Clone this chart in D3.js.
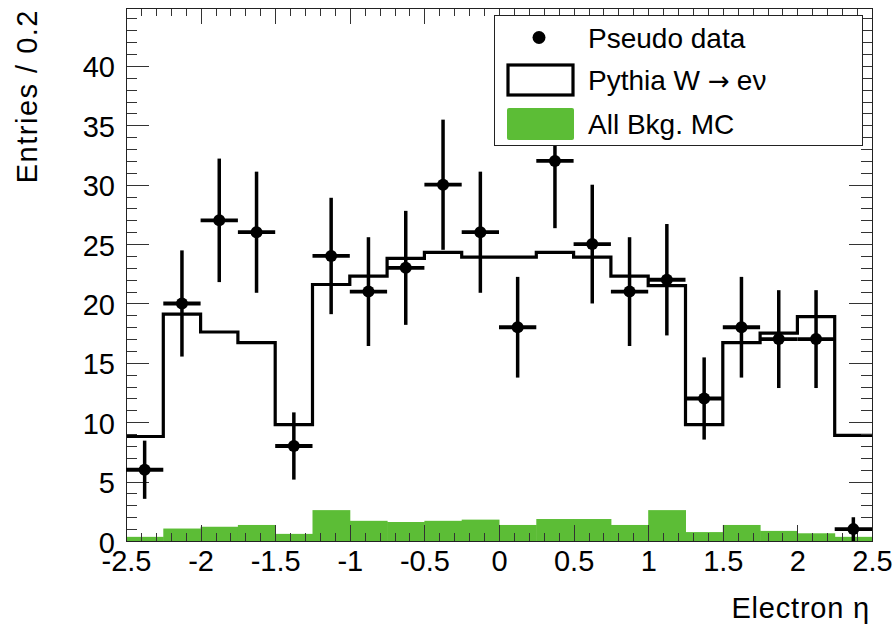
<!DOCTYPE html>
<html>
<head>
<meta charset="utf-8">
<script src="https://cdn.jsdelivr.net/npm/d3@7"></script>
<style>
  html, body { margin: 0; padding: 0; background: #fff; }
  svg { display: block; font-family: "Liberation Sans", Arial, sans-serif; }
</style>
</head>
<body>
<div id="container"></div>
<script>
// bin edges (electron eta), bins of 0.25
const binLow  = [-2.5, -2.25, -2, -1.75, -1.5, -1.25, -1, -0.75, -0.5, -0.25, 0, 0.25, 0.5, 0.75, 1, 1.25, 1.5, 1.75, 2, 2.25];
const binHigh = [-2.25, -2, -1.75, -1.5, -1.25, -1, -0.75, -0.5, -0.25, 0, 0.25, 0.5, 0.75, 1, 1.25, 1.5, 1.75, 2, 2.25, 2.5];

// pseudo data, with its errors
const dataCounts = [6, 20, 27, 26, 8, 24, 21, 23, 30, 26, 18, 32, 25, 21, 22, 12, 18, 17, 17, 1];
const dataErr = [2.45, 4.47, 5.2, 5.1, 2.83, 4.9, 4.58, 4.8, 5.48, 5.1, 4.24, 5.66, 5, 4.58, 4.69, 3.46, 4.24, 4.12, 4.12, 1];

// Pythia W -> e nu
const signalMC = [8.8, 19.1, 17.6, 16.7, 9.8, 21.6, 22.3, 23.8, 24.3, 23.9, 23.9, 24.3, 23.9, 22.3, 21.5, 9.8, 16.7, 17.5, 18.9, 8.9];

// all background MC
const bkgMC = [0.35, 1.05, 1.2, 1.35, 0.6, 2.6, 1.7, 1.6, 1.7, 1.8, 1.35, 1.85, 1.85, 1.35, 2.6, 0.75, 1.35, 0.85, 0.65, 0.35];

const xTicks = [-2.5, -2, -1.5, -1, -0.5, 0, 0.5, 1, 1.5, 2, 2.5];
const yTicks = [0, 5, 10, 15, 20, 25, 30, 35, 40];
const legendLabels = ["Pseudo data", "Pythia W", "All Bkg. MC"];

const width = 894;
const height = 631;
const padL = 126, padR = 872, padT = 8, padB = 541;
const green = "#5cbd36";

const svg = d3.select("#container")
  .append("svg")
  .attr("width", width)
  .attr("height", height);

const x = d3.scaleLinear().domain([-2.5, 2.5]).range([padL, padR]);
const y = d3.scaleLinear().domain([0, 44.88]).range([padB, padT]);

const bins = binLow.map((lo, i) => ({
  lo: lo, hi: binHigh[i], mid: (lo + binHigh[i]) / 2,
  n: dataCounts[i], err: dataErr[i], sig: signalMC[i], bkg: bkgMC[i]
}));

// background histogram (filled)
svg.append("g")
  .selectAll("rect")
  .data(bins)
  .enter()
  .append("rect")
  .attr("x", d => x(d.lo))
  .attr("width", d => x(d.hi) - x(d.lo) + 0.5)
  .attr("y", d => y(d.bkg))
  .attr("height", d => y(0) - y(d.bkg))
  .attr("fill", green);

// signal histogram as a step line
const stepPts = [];
bins.forEach(d => {
  stepPts.push([x(d.lo), y(d.sig)]);
  stepPts.push([x(d.hi), y(d.sig)]);
});
svg.append("path")
  .attr("d", d3.line()(stepPts))
  .attr("fill", "none")
  .attr("stroke", "#000")
  .attr("stroke-width", 3.2);

// axes: ticks on all four sides, pointing inward
function drawAxis(axis, tx, ty) {
  const g = svg.append("g")
    .attr("transform", `translate(${tx},${ty})`)
    .call(axis);
  g.select(".domain").remove();
  g.selectAll(".tick line").attr("stroke", "#333").attr("shape-rendering", "crispEdges");
  return g;
}

const xMinor = d3.range(-25, 26).map(v => v / 10).filter(v => Math.abs(v * 2 - Math.round(v * 2)) > 1e-6);
const yMinor = d3.range(0, 45).filter(v => v % 5 !== 0);

const xb = drawAxis(d3.axisBottom(x).tickValues(xTicks).tickSize(-16).tickPadding(9.5)
  .tickFormat(d => String(d)), 0, padB);
drawAxis(d3.axisBottom(x).tickValues(xMinor).tickSize(-8).tickFormat(""), 0, padB);
drawAxis(d3.axisTop(x).tickValues(xTicks).tickSize(-16).tickFormat(""), 0, padT);
drawAxis(d3.axisTop(x).tickValues(xMinor).tickSize(-8).tickFormat(""), 0, padT);

const yl = drawAxis(d3.axisLeft(y).tickValues(yTicks).tickSize(-23).tickPadding(11)
  .tickFormat(d => String(d)), padL, 0);
drawAxis(d3.axisLeft(y).tickValues(yMinor).tickSize(-11).tickFormat(""), padL, 0);
drawAxis(d3.axisRight(y).tickValues(yTicks).tickSize(-23).tickFormat(""), padR, 0);
drawAxis(d3.axisRight(y).tickValues(yMinor).tickSize(-11).tickFormat(""), padR, 0);

xb.selectAll("text").attr("font-size", 29).attr("fill", "#000").attr("font-family", "Liberation Sans");
yl.selectAll("text").attr("font-size", 29).attr("fill", "#000").attr("font-family", "Liberation Sans")
  .attr("dy", "0.38em");

// frame
svg.append("rect")
  .attr("x", padL).attr("y", padT)
  .attr("width", padR - padL).attr("height", padB - padT)
  .attr("fill", "none").attr("stroke", "#222").attr("stroke-width", 1)
  .attr("shape-rendering", "crispEdges");

// pseudo data points
const pts = svg.append("g").selectAll("g").data(bins).enter().append("g");
pts.append("line")
  .attr("x1", d => x(d.mid)).attr("x2", d => x(d.mid))
  .attr("y1", d => y(d.n + d.err)).attr("y2", d => y(Math.max(0, d.n - d.err)))
  .attr("stroke", "#000").attr("stroke-width", 3.5);
pts.append("line")
  .attr("x1", d => x(d.lo)).attr("x2", d => x(d.hi))
  .attr("y1", d => y(d.n)).attr("y2", d => y(d.n))
  .attr("stroke", "#000").attr("stroke-width", 3.8);
pts.append("circle")
  .attr("cx", d => x(d.mid)).attr("cy", d => y(d.n))
  .attr("r", 6).attr("fill", "#000");

// axis titles
svg.append("text")
  .attr("x", 870).attr("y", 618)
  .attr("text-anchor", "end")
  .attr("font-size", 29)
  .attr("letter-spacing", 0.8)
  .text("Electron \u03b7");

svg.append("text")
  .attr("transform", "translate(37,9) rotate(-90)")
  .attr("text-anchor", "end")
  .attr("font-size", 29)
  .attr("letter-spacing", 1.5)
  .text("Entries / 0.2");

// legend
const legend = svg.append("g");
legend.append("rect")
  .attr("x", 494.5).attr("y", 15.5)
  .attr("width", 368).attr("height", 130)
  .attr("fill", "#fff").attr("stroke", "#222").attr("stroke-width", 1);

const rowY = [37.5, 80, 124];
legend.append("circle").attr("cx", 539).attr("cy", rowY[0]).attr("r", 6.5).attr("fill", "#000");
legend.append("rect")
  .attr("x", 508).attr("y", 65).attr("width", 65).attr("height", 30)
  .attr("fill", "#fff").attr("stroke", "#000").attr("stroke-width", 3.2);
legend.append("rect")
  .attr("x", 507).attr("y", 108).attr("width", 67).attr("height", 32).attr("rx", 2)
  .attr("fill", green);

const labs = legend.selectAll("text.lab")
  .data(legendLabels)
  .enter()
  .append("text")
  .attr("class", "lab")
  .attr("x", 588)
  .attr("y", (d, i) => rowY[i] + 10)
  .attr("font-size", 28)
  .text(d => d);

// the W -> e nu label needs a longer math arrow
const wLab = labs.filter((d, i) => i === 1);
wLab.append("tspan").attr("dx", 8).attr("font-family", "DejaVu Sans").attr("font-size", 26)
  .text("\u2192");
wLab.append("tspan").attr("dx", 7).text("e\u03bd");
</script>
</body>
</html>
